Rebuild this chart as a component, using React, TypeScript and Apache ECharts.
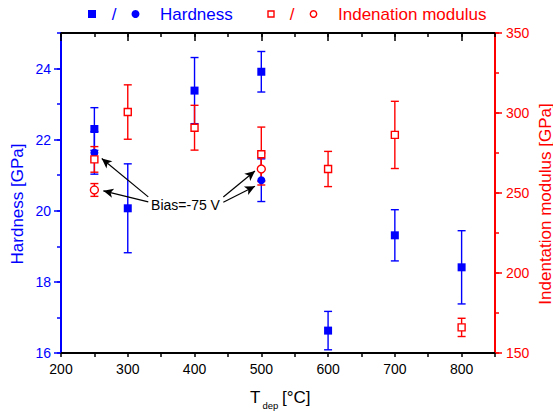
import React, { useEffect, useRef } from "react";
import * as echarts from "echarts";

const temperatures = [250, 300, 400, 500, 600, 700, 800];
const hardness = [22.3, 20.07, 23.38, 23.91, 16.63, 19.31, 18.41];
const hardnessErr = [0.6, 1.25, 0.93, 0.57, 0.54, 0.72, 1.03];
const modulus = [271, 300.6, 290.8, 274.2, 265, 286.3, 166];
const modulusErr = [8, 17, 14, 17, 11, 21, 5.7];

const biasTemperatures = [250, 500];
const biasHardness = [21.63, 20.86];
const biasHardnessErr = [0.6, 0.6];
const biasModulus = [251.9, 265.0];
const biasModulusErr = [4, 10];

const xTickLabels = [200, 300, 400, 500, 600, 700, 800];
const hardnessTickLabels = [16, 18, 20, 22, 24];
const modulusTickLabels = [150, 200, 250, 300, 350];

const biasLabel = "Bias=-75 V";
const biasLabelAt = [386.5, 20.17];
const biasArrows = [
  [[330.7, 20.39], [261.0, 21.47]],
  [[330.7, 20.25], [263.4, 20.56]],
  [[443.1, 20.39], [490.5, 21.12]],
  [[443.1, 20.24], [490.5, 20.69]],
];

const BLUE = "#0000ff";
const RED = "#ff0000";
const FONT = "'Liberation Sans', Arial, sans-serif";

function errorSeries(xs: number[], ys: number[], errs: number[], color: string, yAxisIndex: number) {
  return {
    type: "custom",
    xAxisIndex: 0,
    yAxisIndex,
    data: xs.map((x, i) => [x, ys[i] - errs[i], ys[i] + errs[i]]),
    encode: { x: 0, y: [1, 2] },
    silent: true,
    z: 2,
    renderItem: (params: any, api: any) => {
      const x = api.value(0);
      const lo = api.coord([x, api.value(1)]);
      const hi = api.coord([x, api.value(2)]);
      const w = 4;
      const st = { stroke: color, lineWidth: 1.4 };
      return {
        type: "group",
        children: [
          { type: "line", shape: { x1: lo[0], y1: lo[1], x2: hi[0], y2: hi[1] }, style: st },
          { type: "line", shape: { x1: lo[0] - w, y1: lo[1], x2: lo[0] + w, y2: lo[1] }, style: st },
          { type: "line", shape: { x1: hi[0] - w, y1: hi[1], x2: hi[0] + w, y2: hi[1] }, style: st },
        ],
      };
    },
  };
}

export default function App() {
  const ref = useRef<HTMLDivElement>(null);
  useEffect(() => {
    const chart = echarts.init(ref.current!, undefined, { renderer: "svg" });
    const pts = (xs: number[], ys: number[]) => xs.map((x, i) => [x, ys[i]]);
    const option: any = {
      animation: false,
      textStyle: { fontFamily: FONT },
      grid: { left: 61, right: 58, top: 33, bottom: 59, containLabel: false },
      xAxis: [
        {
          type: "value",
          position: "bottom",
          min: 200,
          max: 850,
          interval: 50,
          axisLine: { show: true, lineStyle: { color: "#000", width: 2 } },
          axisTick: { show: true, inside: false, length: 4, lineStyle: { color: "#000", width: 1.5 } },
          axisLabel: { customValues: xTickLabels, margin: 9, fontSize: 14, color: "#000", fontFamily: FONT },
          splitLine: { show: false },
        },
        {
          type: "value",
          position: "top",
          min: 200,
          max: 850,
          interval: 50,
          axisLine: { show: true, onZero: false, lineStyle: { color: "#000", width: 2 } },
          axisTick: { show: true, inside: true, length: 4, lineStyle: { color: "#000", width: 1.5 } },
          axisLabel: { show: false },
          splitLine: { show: false },
        },
        {
          type: "value",
          position: "top",
          min: 200,
          max: 850,
          interval: 50,
          axisLine: { show: false },
          axisTick: { show: true, inside: true, length: 8, customValues: xTickLabels, lineStyle: { color: "#000", width: 1.5 } },
          axisLabel: { show: false },
          splitLine: { show: false },
        },
      ],
      yAxis: [
        {
          type: "value",
          position: "left",
          min: 16,
          max: 25,
          interval: 1,
          axisLine: { show: true, onZero: false, lineStyle: { color: BLUE, width: 2 } },
          axisTick: { show: true, inside: false, length: 4, lineStyle: { color: BLUE, width: 1.5 } },
          axisLabel: { customValues: hardnessTickLabels, margin: 10, fontSize: 14, color: BLUE, fontFamily: FONT },
          splitLine: { show: false },
        },
        {
          type: "value",
          position: "right",
          min: 150,
          max: 350,
          interval: 25,
          axisLine: { show: true, onZero: false, lineStyle: { color: RED, width: 2 } },
          axisTick: { show: true, inside: false, length: 4, lineStyle: { color: RED, width: 1.5 } },
          axisLabel: { customValues: modulusTickLabels, margin: 11, fontSize: 14, color: RED, fontFamily: FONT },
          splitLine: { show: false },
        },
        {
          type: "value",
          position: "left",
          min: 16,
          max: 25,
          interval: 1,
          axisLine: { show: false },
          axisTick: { show: true, inside: false, length: 7, customValues: hardnessTickLabels, lineStyle: { color: BLUE, width: 1.5 } },
          axisLabel: { show: false },
          splitLine: { show: false },
        },
        {
          type: "value",
          position: "right",
          min: 150,
          max: 350,
          interval: 25,
          axisLine: { show: false },
          axisTick: { show: true, inside: false, length: 7, customValues: modulusTickLabels, lineStyle: { color: RED, width: 1.5 } },
          axisLabel: { show: false },
          splitLine: { show: false },
        },
      ],
      series: [
        errorSeries(temperatures, hardness, hardnessErr, BLUE, 0),
        errorSeries(biasTemperatures, biasHardness, biasHardnessErr, BLUE, 0),
        errorSeries(temperatures, modulus, modulusErr, RED, 1),
        errorSeries(biasTemperatures, biasModulus, biasModulusErr, RED, 1),
        {
          type: "scatter",
          xAxisIndex: 0,
          yAxisIndex: 0,
          data: pts(temperatures, hardness),
          symbol: "rect",
          symbolSize: 8,
          itemStyle: { color: BLUE, opacity: 1 },
          z: 3,
          silent: true,
        },
        {
          type: "scatter",
          xAxisIndex: 0,
          yAxisIndex: 0,
          data: pts(biasTemperatures, biasHardness),
          symbol: "circle",
          symbolSize: 8,
          itemStyle: { color: BLUE, opacity: 1 },
          z: 3,
          silent: true,
          markLine: {
            silent: true,
            symbol: ["none", "arrow"],
            symbolSize: [7, 10],
            lineStyle: { color: "#000", width: 1.2, type: "solid" },
            label: { show: false },
            data: biasArrows.map(([a, b]) => [{ coord: a }, { coord: b }]),
          },
          markPoint: {
            silent: true,
            symbol: "rect",
            symbolSize: 1,
            itemStyle: { color: "rgba(0,0,0,0)" },
            label: { show: true, position: "inside", formatter: biasLabel, color: "#000", fontSize: 14, fontFamily: FONT },
            data: [{ coord: biasLabelAt }],
          },
        },
        {
          type: "scatter",
          xAxisIndex: 0,
          yAxisIndex: 1,
          data: pts(temperatures, modulus),
          symbol: "rect",
          symbolSize: 7,
          itemStyle: { color: "#fff", borderColor: RED, borderWidth: 1.4, opacity: 1 },
          z: 4,
          silent: true,
        },
        {
          type: "scatter",
          xAxisIndex: 0,
          yAxisIndex: 1,
          data: pts(biasTemperatures, biasModulus),
          symbol: "circle",
          symbolSize: 8,
          itemStyle: { color: "#fff", borderColor: RED, borderWidth: 1.4, opacity: 1 },
          z: 4,
          silent: true,
        },
      ],
      graphic: [
        { type: "rect", shape: { x: 88, y: 10, width: 8, height: 8 }, style: { fill: BLUE } },
        { type: "text", x: 114, y: 14, style: { text: "/", fill: BLUE, fontSize: 17, fontFamily: FONT, textAlign: "center", textVerticalAlign: "middle" } },
        { type: "circle", shape: { cx: 135.5, cy: 14, r: 4 }, style: { fill: BLUE } },
        { type: "text", x: 160, y: 14, style: { text: "Hardness", fill: BLUE, fontSize: 17, fontFamily: FONT, textAlign: "left", textVerticalAlign: "middle" } },
        { type: "rect", shape: { x: 268, y: 11, width: 6, height: 6 }, style: { fill: "#fff", stroke: RED, lineWidth: 1.4 } },
        { type: "text", x: 292, y: 14, style: { text: "/", fill: RED, fontSize: 17, fontFamily: FONT, textAlign: "center", textVerticalAlign: "middle" } },
        { type: "circle", shape: { cx: 313.5, cy: 14, r: 3.2 }, style: { fill: "#fff", stroke: RED, lineWidth: 1.4 } },
        { type: "text", x: 338, y: 14, style: { text: "Indenation modulus", fill: RED, fontSize: 17, fontFamily: FONT, textAlign: "left", textVerticalAlign: "middle" } },
        { type: "text", x: 17, y: 204, rotation: Math.PI / 2, style: { text: "Hardness [GPa]", fill: BLUE, fontSize: 17, fontFamily: FONT, textAlign: "center", textVerticalAlign: "middle" } },
        { type: "text", x: 545, y: 204, rotation: Math.PI / 2, style: { text: "Indentation modulus [GPa]", fill: RED, fontSize: 17, fontFamily: FONT, textAlign: "center", textVerticalAlign: "middle" } },
        { type: "text", x: 250, y: 397.5, style: { text: "T", fill: "#000", fontSize: 17, fontFamily: FONT, textAlign: "left", textVerticalAlign: "middle" } },
        { type: "text", x: 262.5, y: 405, style: { text: "dep", fill: "#000", fontSize: 9.5, fontFamily: FONT, textAlign: "left", textVerticalAlign: "middle" } },
        { type: "text", x: 282, y: 397.5, style: { text: "[°C]", fill: "#000", fontSize: 17, fontFamily: FONT, textAlign: "left", textVerticalAlign: "middle" } },
      ],
    };
    chart.setOption(option);
    return () => chart.dispose();
  }, []);
  return <div ref={ref} style={{ width: 553, height: 412, position: "absolute", left: 0, top: 0 }} />;
}
